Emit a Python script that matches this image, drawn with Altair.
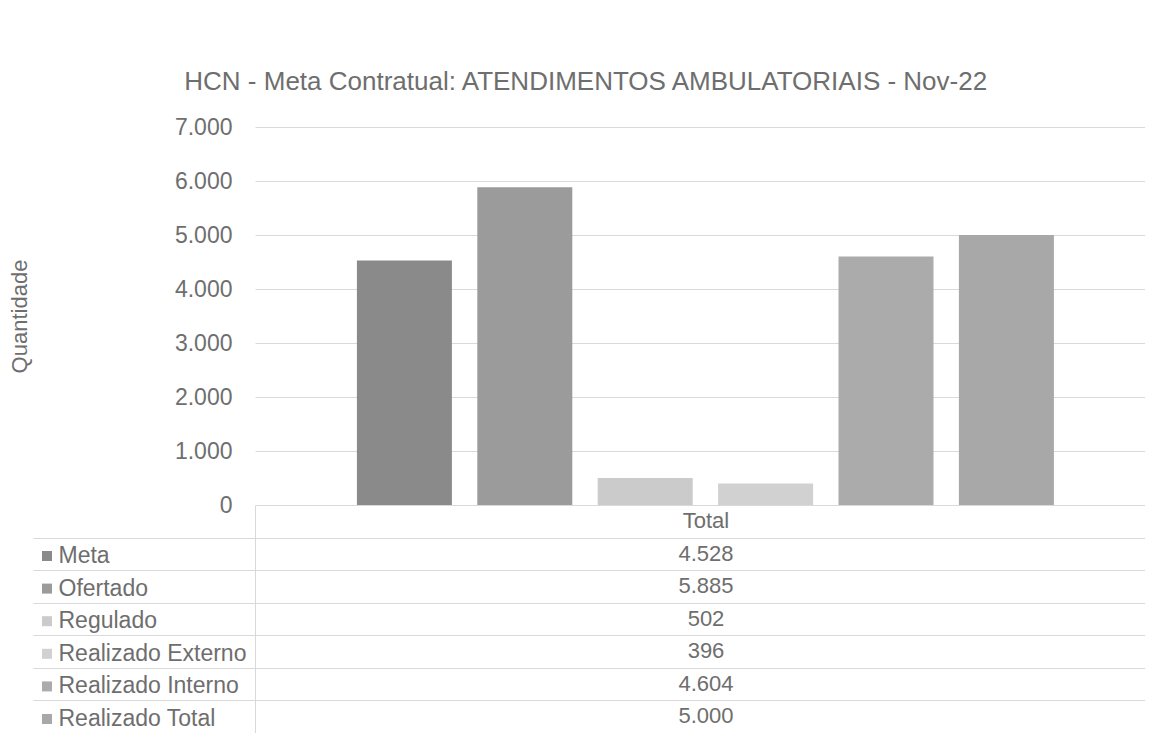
import altair as alt
import pandas as pd

# ---------------- data ----------------
chart_title = "HCN - Meta Contratual: ATENDIMENTOS AMBULATORIAIS - Nov-22"
category = "Total"
series = ["Meta", "Ofertado", "Regulado", "Realizado Externo",
          "Realizado Interno", "Realizado Total"]
values = [4528, 5885, 502, 396, 4604, 5000]
y_ticks = [0, 1000, 2000, 3000, 4000, 5000, 6000, 7000]
y_title = "Quantidade"

# ---------------- style ----------------
FONT = "Liberation Sans"
TXT = "#6e6e6e"
GRID = "#d9d9d9"
colors = ["#8a8a8a", "#9b9b9b", "#cbcbcb", "#d1d1d1", "#ababab", "#a8a8a8"]

bars_df = pd.DataFrame({"serie": series, "valor": values})

rows = ["hdr"] + series
texts = [category] + [f"{v:,}".replace(",", ".") for v in values]
table_df = pd.DataFrame({"linha": rows, "texto": texts, "col": category})

PLOT_W = 890
ROW_H = 32.5

bars = alt.Chart(bars_df).mark_bar().encode(
    x=alt.X("serie:N", sort=series, axis=None,
            scale=alt.Scale(paddingInner=0.211, paddingOuter=0.8015, align=0.528)),
    y=alt.Y("valor:Q",
            scale=alt.Scale(domain=[0, 7000], nice=False),
            axis=alt.Axis(values=y_ticks, title=y_title, grid=True,
                          gridColor=GRID, domain=False, ticks=False,
                          labelPadding=23, labelFont=FONT, labelFontSize=23,
                          labelColor=TXT, titleFont=FONT, titleFontSize=22,
                          titleFontWeight="normal", titleColor=TXT,
                          titlePadding=143,
                          labelExpr="replace(format(datum.value, ',d'), ',', '.')")),
    color=alt.Color("serie:N", sort=series,
                    scale=alt.Scale(domain=series, range=colors),
                    legend=alt.Legend(orient="none", legendX=-219.5, legendY=417.5,
                                      title=None, symbolType="square",
                                      symbolSize=100, symbolStrokeWidth=0,
                                      labelFont=FONT, labelFontSize=23,
                                      labelColor=TXT, labelOffset=0,
                                      labelLimit=400,
                                      rowPadding=ROW_H - 23.9, padding=0,
                                      direction="vertical")),
).properties(width=PLOT_W, height=378)

table = alt.Chart(table_df).mark_text(font=FONT, fontSize=22, color=TXT, dx=6).encode(
    x=alt.X("col:N", axis=None, scale=alt.Scale(paddingInner=0, paddingOuter=0)),
    y=alt.Y("linha:N", sort=rows,
            scale=alt.Scale(paddingInner=0, paddingOuter=0,
                            range=[0, ROW_H * len(rows)]),
            axis=alt.Axis(title=None, labels=False, values=series[:-1],
                          tickBand="extent", ticks=True, tickSize=222,
                          tickColor=GRID, grid=True, gridColor=GRID,
                          domain=True, domainColor=GRID)),
    text="texto:N",
).properties(width=PLOT_W, height=218)

chart = alt.vconcat(bars, table, spacing=0, bounds="flush").properties(
    title=alt.TitleParams(chart_title, font=FONT, fontSize=26,
                          fontWeight="normal", color=TXT, anchor="middle",
                          offset=21, dx=9),
    padding={"left": 0, "top": 61, "right": 0, "bottom": 0},
    background="white",
).configure_view(stroke=None)

chart.save("out.html", embed_options={"renderer": "svg", "actions": False})
